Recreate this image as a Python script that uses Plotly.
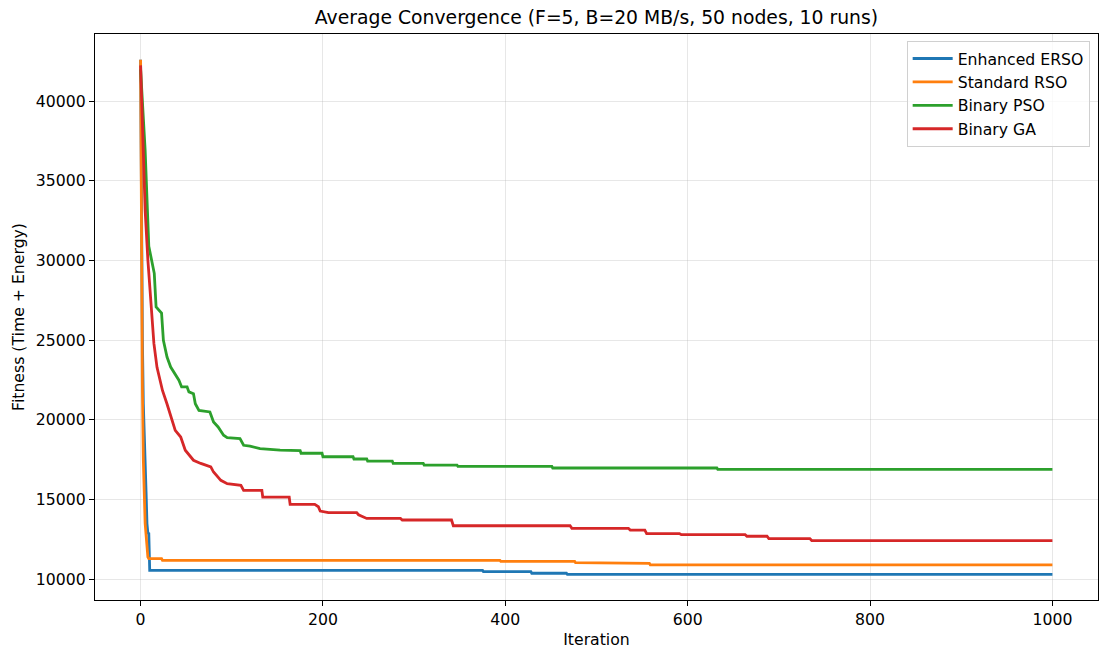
"""Average convergence of the four optimisers (F=5, B=20 MB/s, 50 nodes, 10 runs)."""

import plotly.graph_objects as go

# iteration / fitness breakpoints
ERSO_ITER = [0, 1, 2, 3, 4, 5, 6, 7, 8, 9, 10, 375, 376, 428, 429, 467, 468, 1000]
ERSO_FIT = [42600, 31000, 25000, 21000, 18500, 17500, 15500, 13500, 12900, 12870,
            10560, 10560, 10480, 10480, 10380, 10380, 10310, 10310]

RSO_ITER = [0, 1, 2, 3, 4, 5, 6, 7, 8, 9, 23, 24, 394, 395, 476, 477, 529, 530,
            558, 559, 1000]
RSO_FIT = [42600, 30000, 22000, 17500, 15000, 13500, 12800, 12000, 11400, 11300,
           11300, 11190, 11190, 11130, 11130, 11040, 11040, 11000, 11000, 10900, 10900]

PSO_ITER = [0, 1.5, 5, 9, 12.5, 15, 17, 23, 25, 29, 33, 38, 42, 45, 51, 53, 58, 60,
            64, 76, 80, 85, 91, 95, 109, 113, 120, 131, 153, 175, 176, 199, 200, 233,
            234, 248, 249, 276, 277, 310, 311, 347, 348, 451, 452, 632, 633, 1000]
PSO_FIT = [42000, 40450, 36900, 30900, 30000, 29200, 27090, 26700, 25000, 23950,
           23320, 22900, 22490, 22070, 22070, 21760, 21650, 21020, 20600, 20500,
           19870, 19560, 19040, 18890, 18830, 18410, 18350, 18200, 18100, 18070,
           17910, 17910, 17690, 17690, 17550, 17550, 17420, 17420, 17280, 17280,
           17170, 17170, 17090, 17090, 16985, 16985, 16900, 16900]

GA_ITER = [0, 3, 5, 8, 11, 14.6, 18, 24, 29, 33, 38, 44, 49, 58, 66, 77, 80, 88, 95,
           110, 113, 133, 134, 163, 164, 191, 195, 197, 206, 237, 239, 248, 285, 287,
           341, 343, 471, 473, 535, 537, 553, 555, 591, 593, 663, 665, 687, 689, 734,
           736, 1000]
GA_FIT = [42250, 35870, 33150, 30020, 27600, 24800, 23300, 21850, 21000, 20200,
          19350, 18930, 18100, 17470, 17270, 17050, 16730, 16210, 16000, 15900,
          15580, 15580, 15150, 15150, 14700, 14700, 14550, 14280, 14180, 14180,
          14050, 13820, 13820, 13720, 13720, 13360, 13360, 13200, 13200, 13090,
          13090, 12870, 12870, 12800, 12800, 12700, 12700, 12550, 12550, 12430, 12430]

SERIES = [
    ("Enhanced ERSO", ERSO_ITER, ERSO_FIT, "#1f77b4"),
    ("Standard RSO", RSO_ITER, RSO_FIT, "#ff7f0e"),
    ("Binary PSO", PSO_ITER, PSO_FIT, "#2ca02c"),
    ("Binary GA", GA_ITER, GA_FIT, "#d62728"),
]

X_TICKS = [0, 200, 400, 600, 800, 1000]
Y_TICKS = [10000, 15000, 20000, 25000, 30000, 35000, 40000]

FONT = "DejaVu Sans, Liberation Sans, sans-serif"
TXT = 15.7

fig = go.Figure()
for name, xs, ys, color in SERIES:
    fig.add_trace(
        go.Scatter(
            x=xs,
            y=ys,
            mode="lines",
            name=name,
            line=dict(color=color, width=2.8),
        )
    )

axis_style = dict(
    showline=True,
    linecolor="black",
    linewidth=1.2,
    mirror=True,
    ticks="outside",
    ticklen=5,
    tickwidth=1.2,
    tickcolor="black",
    showgrid=True,
    gridcolor="rgba(176,176,176,0.3)",
    gridwidth=1,
    zeroline=False,
    tickfont=dict(size=TXT, color="black", family=FONT),
)

fig.update_xaxes(
    range=[-50, 1050],
    tickvals=X_TICKS,
    tickformat="d",
    title=dict(text="Iteration", font=dict(size=TXT, color="black", family=FONT), standoff=6),
    **axis_style,
)
fig.update_yaxes(
    range=[8700, 44220],
    tickvals=Y_TICKS,
    tickformat="d",
    title=dict(text="Fitness (Time + Energy)", font=dict(size=TXT, color="black", family=FONT),
               standoff=7),
    **axis_style,
)

fig.update_layout(
    width=1109,
    height=660,
    plot_bgcolor="white",
    paper_bgcolor="white",
    font=dict(family=FONT, color="black"),
    margin=dict(l=95, r=11, t=34, b=60, autoexpand=False),
    title=dict(
        text="Average Convergence (F=5, B=20 MB/s, 50 nodes, 10 runs)",
        x=0.5,
        xref="paper",
        xanchor="center",
        y=1 - 17 / 660,
        yref="container",
        yanchor="middle",
        font=dict(size=18.8, color="black", family=FONT),
    ),
    legend=dict(
        x=0.9917,
        y=0.988,
        xanchor="right",
        yanchor="top",
        bgcolor="rgba(255,255,255,0.8)",
        bordercolor="#d0d0d0",
        borderwidth=1,
        font=dict(size=TXT, color="black", family=FONT),
        itemwidth=40,
    ),
    showlegend=True,
)

# the page body has a default 8px margin; drop it so the figure sits at the top-left
fig.write_html(
    "out.html",
    config={"displayModeBar": False},
    post_script="document.body.style.margin='0';",
)
